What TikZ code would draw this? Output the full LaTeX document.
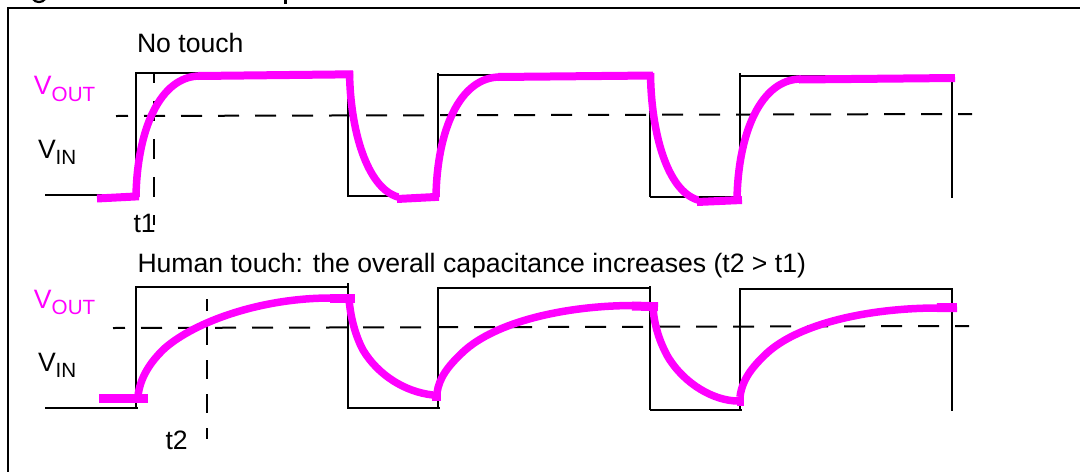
\documentclass[tikz,border=0pt]{standalone}
\usepackage{fontspec}
\setmainfont{Liberation Sans}
\definecolor{vout}{RGB}{255,0,255}
\tikzset{
  wave/.style={draw=black,line width=2pt,line cap=butt,line join=miter},
  thresh/.style={draw=black,line width=2pt,dash pattern=on 21pt off 16pt,dash phase=9pt},
  marker/.style={draw=black,line width=2pt,dash pattern=on 19pt off 15pt},
  outflat/.style={draw=vout,line width=8pt,line cap=butt},
  outflatb/.style={draw=vout,line width=9pt,line cap=butt},
  outcurve/.style={draw=vout,line width=7.5pt,line cap=butt,line join=round},
  lab/.style={inner sep=0pt,outer sep=0pt,anchor=base west,text=black,font=\fontsize{26.6}{30}\selectfont},
  sig/.style={inner sep=0pt,outer sep=0pt,anchor=base west,font=\fontsize{26.6}{30}\selectfont},
  frameline/.style={draw=black,line width=2pt,line cap=butt,line join=miter}
}
\newcommand{\subtxt}[1]{\raisebox{-6.5pt}{\fontsize{20.6}{22}\selectfont #1}}
\begin{document}
\begin{tikzpicture}[x=1pt,y=-1pt]
\useasboundingbox (0,0) rectangle (1080,472);
\fill[white] (0,0) rectangle (1080,472);
% frame
\draw[frameline] (1080,8) -- (8,8) -- (8,472);
% clipped title descenders
\begin{scope}
\clip (0,0) rectangle (1080,4);
\draw[black,line width=2.2pt] (33,-1) .. controls (35,3) and (43,3) .. (45,-1);
\fill[black] (283.5,0) rectangle (287,3.5);
\end{scope}
% top input
\draw[wave] (45,195) -- (136,195);
\draw[wave] (136,195.8) -- (136,72.5);
\draw[wave] (135,73.4) -- (348,73.4);
\draw[wave] (348,71) -- (348,195);
\draw[wave] (347,195.7) -- (440,195.7);
\draw[wave] (438,195) -- (438,72.7);
\draw[wave] (438,74.7) -- (650,74.7);
\draw[wave] (650,73) -- (650,196.7);
\draw[wave] (650,196.7) -- (742,196.7);
\draw[wave] (740,197) -- (740,73.3);
\draw[wave] (740,76) -- (952,76);
\draw[wave] (952,74) -- (952,198);
\draw[thresh] (116,116) -- (972,114);
\draw[marker,dash pattern=on 20pt off 18pt,dash phase=9pt] (154,72) -- (154,225);
% top output
\draw[outflat] (97,198.5) -- (139,196.3);
\draw[outcurve] (136,197) .. controls (137,130) and (160,76) .. (200,76);
\draw[outflat] (198,76) -- (353,74.3);
\draw[outcurve] (349.5,71) .. controls (350,130) and (367,188) .. (398,197);
\draw[outflat] (397,199) -- (439,196.8);
\draw[outcurve] (436,197) .. controls (437,130) and (460,77) .. (500,77);
\draw[outflat] (498,77) -- (653,75.5);
\draw[outcurve] (650.5,73) .. controls (651,132) and (667,191) .. (698,200);
\draw[outflat] (697,202) -- (742,200);
\draw[outcurve] (737,200) .. controls (738,133) and (761,79) .. (801,79);
\draw[outflat] (799,79.5) -- (955,78);
% bottom input
\draw[wave] (45,408) -- (138,408);
\draw[wave] (136,408) -- (136,286.7);
\draw[wave] (135.2,287) -- (348,287);
\draw[wave] (348,283) -- (348,407);
\draw[wave] (347,408.3) -- (440,408.3);
\draw[wave] (438,408) -- (438,286.5);
\draw[wave] (438,287.7) -- (650,287.7);
\draw[wave] (650,286) -- (650,409.5);
\draw[wave] (650,409.5) -- (742,409.5);
\draw[wave] (740,409.5) -- (740,288);
\draw[wave] (740,289) -- (952,289);
\draw[wave] (952,288) -- (952,410.7);
\draw[thresh] (113,328) -- (969,326);
\draw[marker,dash phase=7pt] (207,299) -- (207,439);
% bottom output
\draw[outflatb] (99,398.5) -- (148,398.5);
\draw[outcurve] (138,396) .. controls (140,378) and (150,362) .. (165,348) .. controls (195,322) and (260,298) .. (331,298);
\draw[outflatb] (330,298) -- (355,298);
\draw[outcurve] (349,298) .. controls (350,315) and (355,335) .. (363,350) .. controls (378,375) and (405,392) .. (433,395);
\draw[outflatb] (432,396) -- (441,396);
\draw[outcurve] (437,393) .. controls (439,378) and (448,366) .. (463,352) .. controls (495,322) and (565,305.5) .. (634,305.5);
\draw[outflatb] (632,306) -- (658,306.7);
\draw[outcurve] (653,307) .. controls (654,325) and (660,343) .. (668,357) .. controls (685,385) and (715,401) .. (738,401);
\draw[outflatb] (737,401) -- (744,401);
\draw[outcurve] (740,397) .. controls (742,380) and (752,367) .. (767,353) .. controls (800,323) and (870,308) .. (938,308);
\draw[outflatb] (937,307.7) -- (957,307.5);
% labels
\node[lab] (notouch) at (137,52) {No touch};
\node[lab] (human) at (137.5,272) {Human touch: the overall capacitance increases (t2 > t1)};
\node[sig,text=vout] (voutA) at (34,94.7) {V\subtxt{OUT}};
\node[sig] (vinA) at (38,158) {V\subtxt{IN}};
\node[lab] (tone) at (133.5,232.7) {t1};
\node[sig,text=vout] (voutB) at (34,308) {V\subtxt{OUT}};
\node[sig] (vinB) at (38,371) {V\subtxt{IN}};
\node[lab] (ttwo) at (165.5,449) {t2};
\end{tikzpicture}
\end{document}
